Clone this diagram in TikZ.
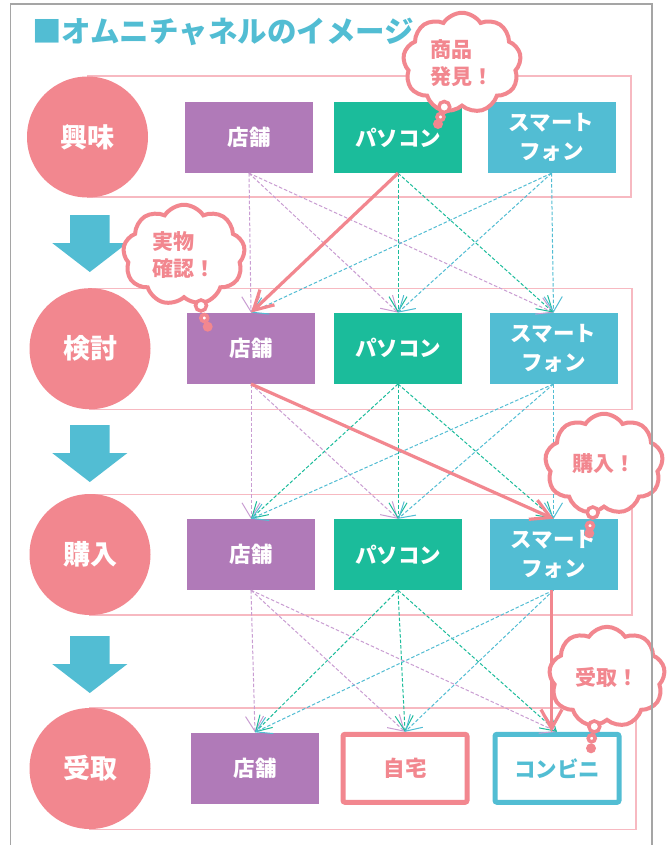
\documentclass[tikz,border=0pt]{standalone}
\usepackage{fontspec}
\newfontfamily\jp{Noto Sans CJK JP}
\usetikzlibrary{shapes.symbols,arrows.meta}
\definecolor{cpink}{HTML}{F2878F}
\definecolor{cframe}{HTML}{F7B9C1}
\definecolor{cpurple}{HTML}{B07AB8}
\definecolor{cpurpled}{HTML}{C99DD2}
\definecolor{cgreen}{HTML}{1BBC9B}
\definecolor{ccyan}{HTML}{52BDD3}
\definecolor{cgray}{HTML}{A5A5A5}
\begin{document}
\begin{tikzpicture}[x=1pt,y=-1pt,
  chanbox/.style={minimum width=128pt,minimum height=71pt,inner sep=0pt,text=white,
    font=\jp\bfseries\fontsize{21.5}{29}\selectfont,align=center},
  shopbox/.style={chanbox,fill=cpurple},
  pcbox/.style={chanbox,fill=cgreen},
  spbox/.style={chanbox,fill=ccyan},
  outbox/.style={chanbox,fill=white,line width=5pt,rounded corners=2pt,
    minimum width=124pt,minimum height=68pt},
  stagecirc/.style={circle,fill=cpink,minimum size=121pt,inner sep=0pt,text=white,
    font=\jp\bfseries\fontsize{27}{30}\selectfont},
  rowframe/.style={draw=cframe,line width=1.5pt},
  dashbase/.style={line width=1pt,dash pattern=on 3.5pt off 2pt,
    -{Straight Barb[length=15pt,width=18pt]}},
  dashp/.style={dashbase,draw=cpurpled},
  dashg/.style={dashbase,draw=cgreen},
  dashc/.style={dashbase,draw=ccyan},
  redarrow/.style={draw=cpink,line width=3.2pt,-{Straight Barb[length=19pt,width=21pt]}},
  thought/.style={cloud,cloud puffs=9,cloud puff arc=115,draw=cpink,line width=4pt,
    fill=white,text=cpink,font=\jp\bfseries\fontsize{21}{27}\selectfont,align=left,inner sep=0pt},
  ringtail/.style={draw=cpink,line width=3.5pt,fill=white},
  downarrow/.pic={\fill[ccyan] (-19.8,0) -- (19.8,0) -- (19.8,28) -- (37.6,28) -- (0,57)
      -- (-37.6,28) -- (-19.8,28) -- cycle;}
]
\useasboundingbox (0,0) rectangle (666,845);
\fill[white] (0,0) rectangle (666,845);

% title
\node[anchor=west,inner sep=0pt,text=ccyan,font=\jp\bfseries\fontsize{29.5}{34}\selectfont]
  (title) at (32,32) {■オムニチャネルのイメージ};

% row frames
\draw[rowframe] (87.5,76) rectangle (631,197);
\draw[rowframe] (90,288.3) rectangle (632,409.3);
\draw[rowframe] (90,494.3) rectangle (632,615);
\draw[rowframe] (90,708) rectangle (636,829.3);

% boxes
\node[shopbox] (s1) at (249,137.5) {店舗};
\node[pcbox]   (p1) at (398,137.5) {パソコン};
\node[spbox]   (m1) at (551.5,137.5) {スマート\\フォン};
\node[shopbox] (s2) at (251,348.3) {店舗};
\node[pcbox]   (p2) at (398,348.3) {パソコン};
\node[spbox]   (m2) at (553.5,348.3) {スマート\\フォン};
\node[shopbox] (s3) at (251,554.5) {店舗};
\node[pcbox]   (p3) at (398,554.5) {パソコン};
\node[spbox]   (m3) at (553.5,554.5) {スマート\\フォン};
\node[shopbox] (s4) at (255,768) {店舗};
\node[outbox,draw=cpink,text=cpink] (h4) at (405,768.3) {自宅};
\node[outbox,draw=ccyan,text=ccyan] (k4) at (557,768.3) {コンビニ};

% dashed connectors gap 1
\draw[dashp] (s1.south) -- (s2.north);
\draw[dashp] (s1.south) -- (p2.north);
\draw[dashp] (s1.south) -- (m2.north);
\draw[dashg] (p1.south) -- (p2.north);
\draw[dashg] (p1.south) -- (m2.north);
\draw[dashc] (m1.south) -- (m2.north);
\draw[dashc] (m1.south) -- (p2.north);
\draw[dashc] (m1.south) -- (s2.north);
% gap 2
\draw[dashp] (s2.south) -- (s3.north);
\draw[dashp] (s2.south) -- (p3.north);
\draw[dashg] (p2.south) -- (s3.north);
\draw[dashg] (p2.south) -- (p3.north);
\draw[dashg] (p2.south) -- (m3.north);
\draw[dashc] (m2.south) -- (s3.north);
\draw[dashc] (m2.south) -- (p3.north);
\draw[dashc] (m2.south) -- (m3.north);
% gap 3
\draw[dashp] (s3.south) -- (s4.north);
\draw[dashp] (s3.south) -- (h4.north);
\draw[dashp] (s3.south) -- (k4.north);
\draw[dashg] (p3.south) -- (s4.north);
\draw[dashg] (p3.south) -- (h4.north);
\draw[dashg] (p3.south) -- (k4.north);
\draw[dashc] (m3.south) -- (s4.north);
\draw[dashc] (m3.south) -- (h4.north);

% red path
\draw[redarrow] (p1.south) -- (s2.north);
\draw[redarrow] (s2.south) -- (m3.north);
\draw[redarrow] ([xshift=-2pt]m3.south) -- ([xshift=-2pt]m3.south |- k4.north);

% stage circles
\node[stagecirc] (c1) at (87.5,137) {興味};
\node[stagecirc] (c2) at (90,348.7) {検討};
\node[stagecirc] (c3) at (90,554.5) {購入};
\node[stagecirc] (c4) at (90,768.5) {受取};

% big arrows
\pic at (89.8,215) {downarrow};
\pic at (89.8,425) {downarrow};
\pic at (89.8,636) {downarrow};

% thought clouds
\node[thought,minimum width=118pt,minimum height=78pt] (t1) at (462,63) {商品\\発見！};
\draw[ringtail] (444.3,107) circle[radius=5.5pt];
\draw[ringtail] (440.5,117) circle[radius=3.5pt];
\fill[cpink] (438,124) circle[radius=5pt];

\node[thought,minimum width=122pt,minimum height=80pt] (t2) at (184,255) {実物\\確認！};
\draw[ringtail] (201,305.5) circle[radius=5.5pt];
\draw[ringtail] (204.3,318) circle[radius=3.5pt];
\fill[cpink] (207.7,326.7) circle[radius=5pt];

\node[thought,minimum width=118pt,minimum height=85pt] (t3) at (604,464) {購入！};
\draw[ringtail] (592.7,512.5) circle[radius=5.5pt];
\draw[ringtail] (590,525.7) circle[radius=3.5pt];
\fill[cpink] (589.3,533.3) circle[radius=5pt];

\node[thought,minimum width=116pt,minimum height=84pt] (t4) at (607,677) {受取！};
\draw[ringtail] (594.3,726.5) circle[radius=5.5pt];
\draw[ringtail] (591.7,738.3) circle[radius=3.5pt];
\fill[cpink] (591,748.3) circle[radius=5pt];

% outer gray frame
\draw[cgray,line width=1.5pt] (10.6,850) -- (10.6,4) -- (652,4) -- (652,850);
\end{tikzpicture}
\end{document}
